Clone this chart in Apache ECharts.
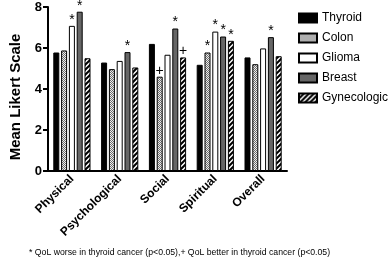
<!DOCTYPE html>
<html>
<head>
<meta charset="utf-8">
<script src="https://cdn.jsdelivr.net/npm/echarts@6/dist/echarts.min.js"></script>
<style>
  html, body { margin: 0; padding: 0; background: #fff; }
  #chart { width: 388px; height: 263px; }
</style>
</head>
<body>
<div id="chart"></div>
<script>
// 数据
var categories = ['Physical', 'Psychological', 'Social', 'Spiritual', 'Overall'];
var thyroid = [5.78, 5.29, 6.2, 5.18, 5.54];
var colon = [5.88, 4.97, 4.6, 5.78, 5.21];
var glioma = [7.08, 5.37, 5.67, 6.8, 5.98];
var breast = [7.77, 5.8, 6.95, 6.56, 6.53];
var gynecologic = [5.5, 5.05, 5.54, 6.35, 5.6];
// 显著性标记
var thyroidMarks = ['', '', '', '', ''];
var colonMarks = ['', '', '+', '*', ''];
var gliomaMarks = ['*', '', '', '*', ''];
var breastMarks = ['*', '*', '*', '*', '*'];
var gynecologicMarks = ['', '', '+', '*', ''];
var yTicks = [0, 2, 4, 6, 8];

var FONT = '"Liberation Sans", Arial, sans-serif';

// 填充图案
function makePattern(size, draw) {
  var c = document.createElement('canvas');
  c.width = size; c.height = size;
  var ctx = c.getContext('2d');
  draw(ctx, size);
  return { image: c, repeat: 'repeat' };
}
var dotFill = makePattern(2, function (ctx) {
  ctx.fillStyle = '#eeeeee';
  ctx.fillRect(0, 0, 2, 2);
  ctx.fillStyle = '#6e6e6e';
  ctx.fillRect(0, 0, 1, 1);
  ctx.fillRect(1, 1, 1, 1);
});
var stripeFill = makePattern(5, function (ctx, s) {
  ctx.fillStyle = '#fff';
  ctx.fillRect(0, 0, s, s);
  ctx.strokeStyle = '#000';
  ctx.lineWidth = 2;
  ctx.beginPath();
  ctx.moveTo(-1, s + 1); ctx.lineTo(s + 1, -1);
  ctx.moveTo(-1, 1); ctx.lineTo(1, -1);
  ctx.moveTo(s - 1, s + 1); ctx.lineTo(s + 1, s - 1);
  ctx.stroke();
});

function barSeries(name, data, marks, fill) {
  return {
    name: name,
    type: 'bar',
    data: data,
    barWidth: 6,
    barGap: '30%',
    itemStyle: { color: fill, borderColor: '#000', borderWidth: 1 },
    label: {
      show: true,
      position: 'top',
      distance: -1,
      color: '#000',
      fontSize: 14,
      fontFamily: FONT,
      formatter: function (p) { return marks[p.dataIndex]; }
    }
  };
}

var chart = echarts.init(document.getElementById('chart'));
var option = {
  animation: false,
  grid: { left: 41, right: 101, top: 7, bottom: 92, containLabel: false },
  legend: {
    orient: 'vertical',
    left: 298,
    top: 12,
    padding: 0,
    icon: 'rect',
    itemWidth: 18,
    itemHeight: 9,
    itemGap: 8,
    textStyle: { fontSize: 12, fontFamily: FONT, color: '#000' },
    data: ['Thyroid', 'Colon', 'Glioma', 'Breast', 'Gynecologic']
  },
  xAxis: {
    type: 'category',
    data: categories,
    axisLine: { lineStyle: { color: '#000', width: 2 } },
    axisTick: { alignWithLabel: true, length: 4, lineStyle: { color: '#000', width: 2 } },
    axisLabel: {
      rotate: 45,
      margin: 6,
      fontSize: 12,
      fontWeight: 'bold',
      fontFamily: FONT,
      color: '#000'
    }
  },
  yAxis: {
    type: 'value',
    min: yTicks[0],
    max: yTicks[yTicks.length - 1],
    interval: 2,
    name: 'Mean Likert Scale',
    nameLocation: 'middle',
    nameGap: 25,
    nameTextStyle: { fontSize: 15, fontWeight: 'bold', fontFamily: FONT, color: '#000', padding: [0, 16, 0, 0] },
    axisLine: { show: true, lineStyle: { color: '#000', width: 2 } },
    axisTick: { show: true, length: 5, lineStyle: { color: '#000', width: 2 } },
    axisLabel: { fontSize: 13, fontWeight: 'bold', fontFamily: FONT, color: '#000', margin: 6 },
    splitLine: { show: false }
  },
  graphic: [{
    type: 'text',
    left: 29,
    top: 248,
    style: {
      text: '* QoL worse in thyroid cancer (p<0.05),+ QoL better in thyroid cancer (p<0.05)',
      fontSize: 8.7,
      fontFamily: FONT,
      fill: '#000'
    }
  }],
  series: [
    barSeries('Thyroid', thyroid, thyroidMarks, '#000'),
    barSeries('Colon', colon, colonMarks, dotFill),
    barSeries('Glioma', glioma, gliomaMarks, '#fff'),
    barSeries('Breast', breast, breastMarks, '#666'),
    barSeries('Gynecologic', gynecologic, gynecologicMarks, stripeFill)
  ]
};
chart.setOption(option);
</script>
</body>
</html>
